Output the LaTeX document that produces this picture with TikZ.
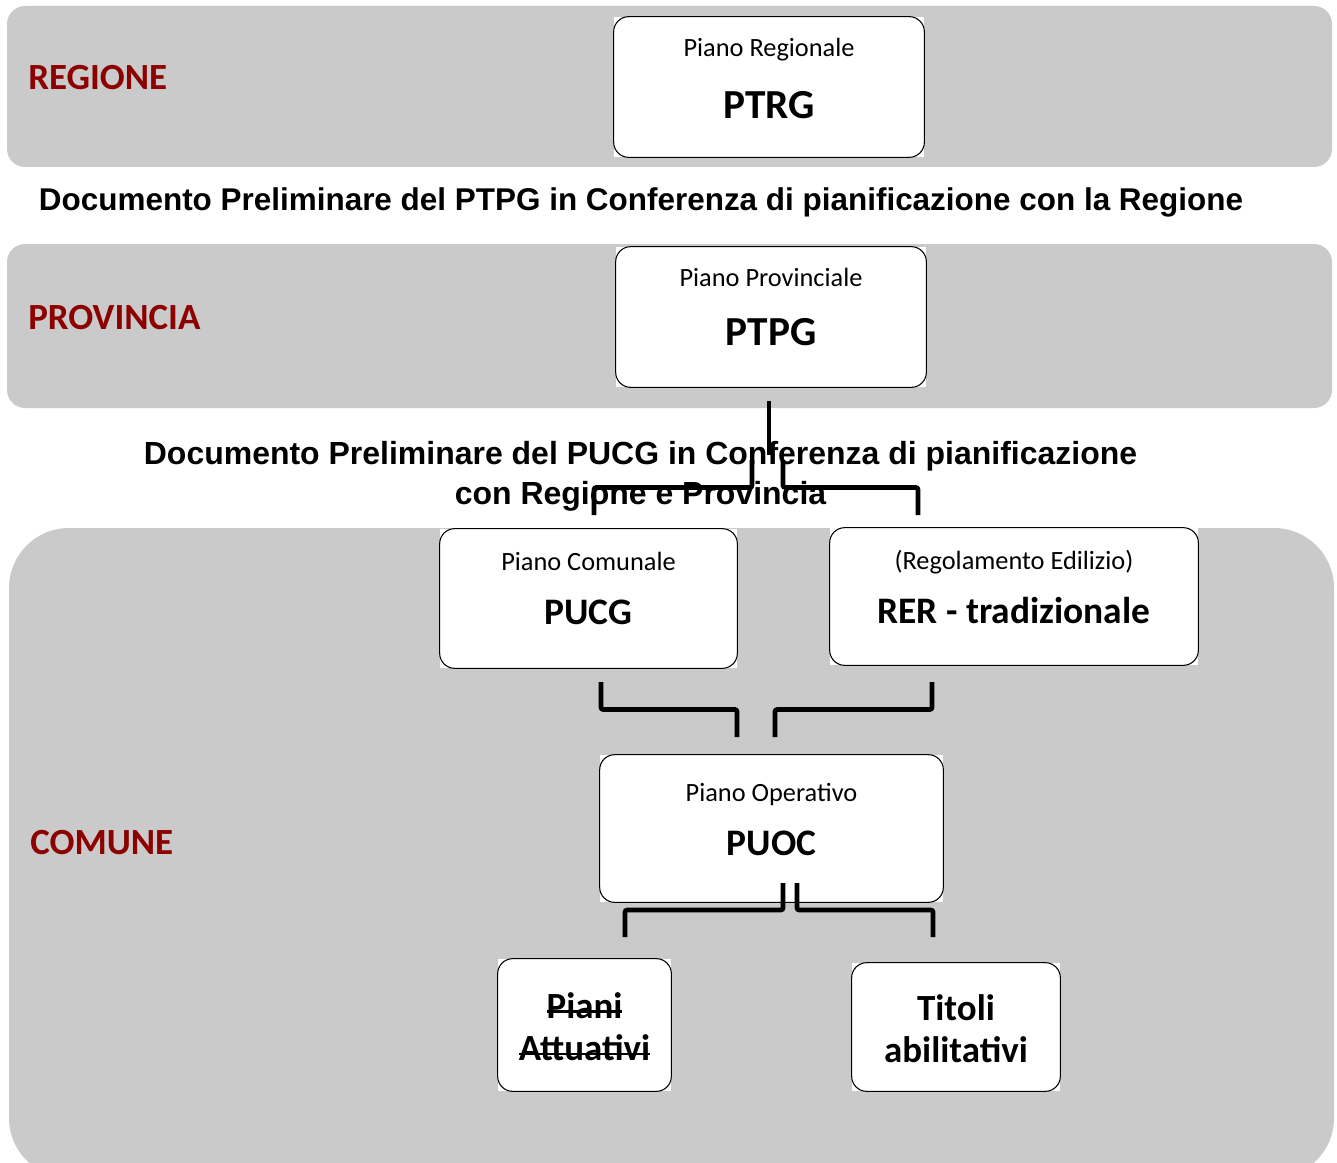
\documentclass[tikz,border=0pt]{standalone}
\usepackage{fontspec}
\setmainfont{Carlito}
\newfontfamily\headfont{Liberation Sans}
\usetikzlibrary{calc}
\newsavebox\strkbox
\newcommand\strk[1]{\sbox\strkbox{#1}\rlap{\rule[0.15em]{\wd\strkbox}{1.6pt}}\usebox\strkbox}
\definecolor{bandgray}{RGB}{202,202,202}
\definecolor{levelred}{RGB}{140,0,0}
\tikzset{
  band/.style={fill=bandgray},
  box/.style={fill=white, inner sep=0pt},
  frame/.style={draw=black, line width=0.6pt, rounded corners=0.3cm},
  sub/.style={font=\fontsize{15}{18}\selectfont, anchor=base},
  title/.style={font=\fontsize{23.5}{28}\selectfont\bfseries, anchor=base},
  smalltitle/.style={font=\fontsize{21.3}{26}\selectfont\bfseries, anchor=base},
  level/.style={font=\fontsize{21}{25}\selectfont\bfseries, text=levelred, anchor=base west, inner sep=0pt},
  heading/.style={font=\headfont\fontsize{17.9}{22.8}\selectfont\bfseries, align=center}
}
\tikzset{link/.style={line width=2.6pt, rounded corners=0.04cm}}
\begin{document}
\begin{tikzpicture}[x=0.02cm, y=-0.02cm]
\clip (0,0) rectangle (1337,1162);

% Bands
\fill[band, rounded corners=0.36cm] (7,6) rectangle (1332,167);
\fill[band, rounded corners=0.36cm] (7,244) rectangle (1332,408);
\fill[band, rounded corners=1.2cm] (9,528) rectangle (1334,1178);

\node[level] (regione) at (28,90) {REGIONE};
\node[level] (provincia) at (28,329) {PROVINCIA};
\node[level] (comune) at (30,854) {COMUNE};

% Headings
\node[heading, anchor=base] (conf1) at (641,211) {Documento Preliminare del PTPG in Conferenza di pianificazione con la Regione};
\node[heading, font=\headfont\fontsize{18.2}{22.8}\selectfont\bfseries] (conf2) at (640.5,476) {Documento Preliminare del PUCG in Conferenza di pianificazione\\con Regione e Provincia};

% Boxes
\node[box, minimum width=6.2cm, minimum height=2.8cm] (ptrg) at (769,87) {};
\node[box, minimum width=6.2cm, minimum height=2.8cm] (ptpg) at (771,317) {};
\node[box, minimum width=5.94cm, minimum height=2.78cm] (pucg) at (588.5,598.5) {};
\node[box, minimum width=7.36cm, minimum height=2.74cm] (rer) at (1014,596.5) {};
\node[box, minimum width=6.86cm, minimum height=2.94cm] (puoc) at (771.5,828.5) {};
\node[box, minimum width=3.46cm, minimum height=2.64cm] (pa) at (584.5,1025) {};
\node[box, minimum width=4.16cm, minimum height=2.56cm] (ta) at (956,1027) {};
\foreach \b in {ptrg,ptpg,pucg,rer,puoc,pa,ta}
  \draw[frame] (\b.south west) rectangle (\b.north east);

\node[sub] (ptrg-sub) at (769,57) {Piano Regionale};
\node[title] (ptrg-name) at (769,119) {PTRG};
\node[sub] (ptpg-sub) at (771,286) {Piano Provinciale};
\node[title] (ptpg-name) at (771,345) {PTPG};
\node[sub] (pucg-sub) at (588.5,570) {Piano Comunale};
\node[smalltitle] (pucg-name) at (588.5,624) {PUCG};
\node[sub] (rer-sub) at (1014,569) {(Regolamento Edilizio)};
\node[smalltitle] (rer-name) at (1014,623) {RER - tradizionale};
\node[sub] (puoc-sub) at (771.5,801) {Piano Operativo};
\node[smalltitle] (puoc-name) at (771.5,855) {PUOC};
\node[align=center, font=\fontsize{21}{24}\selectfont\bfseries] (pa-name) at (584.5,1027) {\strk{Piani}\\\strk{Attuativi}};
\node[align=center, font=\fontsize{21}{24}\selectfont\bfseries] (ta-name) at (956,1029) {Titoli\\abilitativi};

% Connectors
\coordinate (p1) at (769,401);
\coordinate (p2) at (769,455);
\coordinate (l1) at (752,460);
\coordinate (l2) at (594,515);
\coordinate (r1) at (783,460);
\coordinate (r2) at (918,515);
\coordinate (m1) at (601,682);
\coordinate (m2) at (737,737);
\coordinate (n1) at (932,682);
\coordinate (n2) at (775,737);
\coordinate (d1) at (783,883);
\coordinate (d2) at (625,937);
\coordinate (e1) at (797,883);
\coordinate (e2) at (933,937);
\draw[link] (p1) -- (p2);
\foreach \s/\t in {l1/l2, r1/r2, m1/m2, n1/n2, d1/d2, e1/e2}
  \draw[link] (\s) |- ($(\s)!.5!(\t)$) -| (\t);

\end{tikzpicture}
\end{document}
